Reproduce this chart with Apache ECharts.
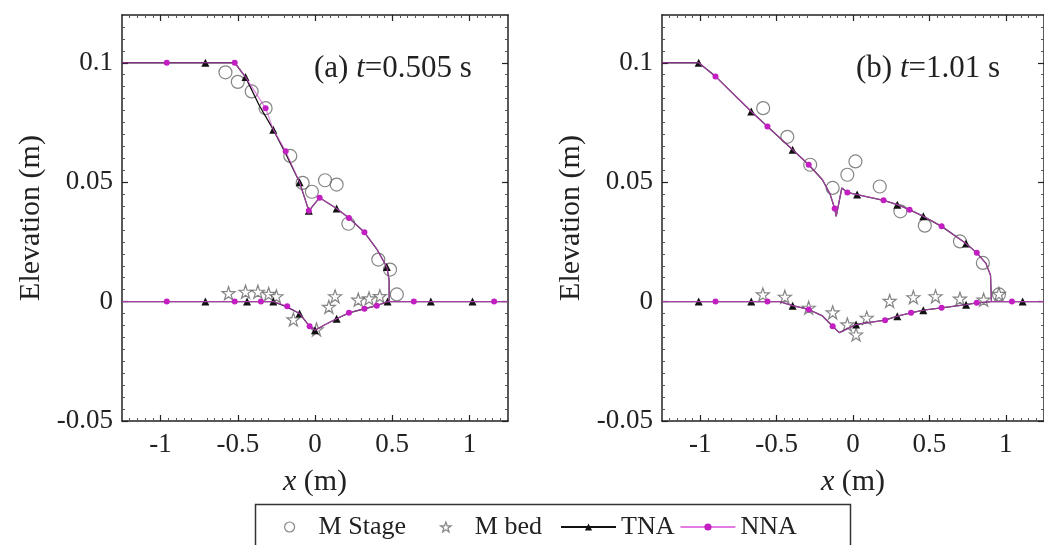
<!DOCTYPE html>
<html>
<head>
<meta charset="UTF-8">
<title>Elevation profiles</title>
<script src="https://cdn.jsdelivr.net/npm/echarts@6.0.0/dist/echarts.min.js"></script>
<style>
    html, body { margin: 0; padding: 0; background: #fff; }
    #main { width: 1044px; height: 545px; }
</style>
</head>
<body>
<div id="main"></div>
<script>
    // tick labels
    var xTicks = [-1, -0.5, 0, 0.5, 1];
    var yTicks = [-0.05, 0, 0.05, 0.1];

    // points are [x, z, marker]; marker = 1 where the model curve shows a symbol
    // (a) t = 0.505 s
    var tnaStageA = [[-1.25,0.1,0],[-0.71,0.1,1],[-0.52,0.1,0],[-0.45,0.094,1],[-0.36,0.082,0],[-0.27,0.072,1],[-0.19,0.062,0],
        [-0.10,0.050,1],[-0.055,0.041,0],[-0.04,0.038,1],[0.03,0.0435,0],[0.14,0.039,1],[0.22,0.035,0],[0.32,0.029,0],
        [0.40,0.022,0],[0.465,0.0145,1],[0.48,0.009,0],[0.48,0,0]];
    var nnaStageA = [[-1.25,0.1,0],[-0.96,0.1,1],[-0.52,0.1,1],[-0.45,0.094,0],[-0.32,0.081,1],[-0.27,0.072,0],[-0.19,0.063,1],
        [-0.10,0.050,0],[-0.055,0.041,0],[-0.04,0.038,1],[0.03,0.0435,1],[0.14,0.039,0],[0.22,0.035,1],[0.32,0.029,1],
        [0.40,0.022,0],[0.465,0.0145,0],[0.48,0.009,0],[0.48,0,0]];
    var tnaBedA = [[-1.25,0,0],[-0.71,0,1],[-0.44,0,1],[-0.34,0,0],[-0.27,0,1],[-0.19,-0.002,0],[-0.10,-0.005,1],[-0.04,-0.010,0],
        [0.0,-0.012,1],[0.07,-0.0095,0],[0.14,-0.0072,1],[0.22,-0.0047,0],[0.32,-0.003,0],[0.40,-0.0017,0],[0.47,0,1],
        [0.75,0,1],[1.02,0,1],[1.25,0,0]];
    var nnaBedA = [[-1.25,0,0],[-0.96,0,1],[-0.52,0,1],[-0.35,0,1],[-0.27,0,0],[-0.18,-0.002,1],[-0.10,-0.005,0],[-0.035,-0.0103,1],
        [0.0,-0.012,0],[0.07,-0.0095,0],[0.14,-0.0072,0],[0.22,-0.0047,1],[0.32,-0.003,1],[0.40,-0.0017,1],[0.47,0,0],
        [0.64,0,1],[1.16,0,1],[1.25,0,0]];
    var mStageA = [[-0.58,0.096],[-0.50,0.092],[-0.41,0.088],[-0.32,0.081],[-0.16,0.061],[-0.08,0.0497],[-0.02,0.046],
        [0.065,0.0508],[0.14,0.049],[0.216,0.0326],[0.41,0.0176],[0.486,0.0134],[0.53,0.003]];
    var mBedA = [[-0.56,0.0035],[-0.45,0.0041],[-0.37,0.0041],[-0.30,0.0032],[-0.25,0.0022],[-0.14,-0.0075],[0.01,-0.0117],
        [0.09,-0.0022],[0.13,0.0022],[0.28,0.0008],[0.35,0.0013],[0.42,0.0023]];

    // (b) t = 1.01 s
    var tnaStageB = [[-1.25,0.1,0],[-1.01,0.1,1],[-0.9,0.0943,0],[-0.666,0.0796,1],[-0.56,0.0733,0],[-0.395,0.0636,1],
        [-0.29,0.0573,0],[-0.2,0.051,0],[-0.15,0.045,0],[-0.12,0.039,0],[-0.11,0.0357,0],[-0.073,0.0476,0],[-0.037,0.0457,0],
        [0.027,0.0448,1],[0.2,0.0424,0],[0.29,0.0406,1],[0.37,0.0385,0],[0.46,0.0357,1],[0.58,0.0315,0],[0.74,0.0243,1],
        [0.81,0.0204,0],[0.87,0.016,0],[0.90,0.011,0],[0.906,0,0]];
    var nnaStageB = [[-1.25,0.1,0],[-1.01,0.1,0],[-0.9,0.0943,1],[-0.666,0.0796,0],[-0.56,0.0733,1],[-0.395,0.0636,0],
        [-0.29,0.0573,1],[-0.2,0.051,0],[-0.15,0.045,0],[-0.12,0.039,1],[-0.11,0.0357,0],[-0.073,0.0476,0],[-0.037,0.0457,1],
        [0.027,0.0448,0],[0.2,0.0424,1],[0.29,0.0406,0],[0.37,0.0385,1],[0.46,0.0357,0],[0.58,0.0315,1],[0.74,0.0243,0],
        [0.81,0.0204,1],[0.87,0.016,0],[0.90,0.011,0],[0.906,0,0]];
    var tnaBedB = [[-1.25,0,0],[-1.01,0,1],[-0.9,0,0],[-0.666,0,1],[-0.56,0,0],[-0.48,0,0],[-0.395,-0.0017,1],[-0.29,-0.0033,0],
        [-0.2,-0.006,0],[-0.133,-0.0103,0],[-0.09,-0.013,0],[0.02,-0.0096,1],[0.1,-0.0088,0],[0.21,-0.0078,0],
        [0.29,-0.0061,1],[0.38,-0.0047,0],[0.46,-0.0036,1],[0.58,-0.0026,0],[0.74,-0.0013,1],[0.81,-0.0005,0],
        [0.906,0,0],[1.04,0,0],[1.11,0,1],[1.25,0,0]];
    var nnaBedB = [[-1.25,0,0],[-1.01,0,0],[-0.9,0,1],[-0.666,0,0],[-0.56,0,1],[-0.48,0,0],[-0.395,-0.0017,0],[-0.29,-0.0033,1],
        [-0.2,-0.006,0],[-0.133,-0.0103,1],[-0.09,-0.013,0],[0.02,-0.0096,0],[0.1,-0.0088,0],[0.21,-0.0078,1],
        [0.29,-0.0061,0],[0.38,-0.0047,1],[0.46,-0.0036,0],[0.58,-0.0026,1],[0.74,-0.0013,0],[0.81,-0.0005,1],
        [0.906,0,0],[1.04,0,1],[1.11,0,0],[1.25,0,0]];
    var mStageB = [[-0.588,0.081],[-0.43,0.069],[-0.28,0.0573],[-0.133,0.0476],[-0.037,0.0531],[0.016,0.0587],[0.175,0.0482],
        [0.31,0.0378],[0.47,0.0318],[0.70,0.0252],[0.85,0.0162],[0.955,0.003]];
    var mBedB = [[-0.59,0.003],[-0.446,0.002],[-0.29,-0.0026],[-0.133,-0.0045],[-0.037,-0.0096],[0.02,-0.0138],[0.09,-0.0068],
        [0.24,0.0003],[0.395,0.0018],[0.54,0.0022],[0.70,0.0012],[0.855,0.0008],[0.955,0.0032]];

    var serif = '"Liberation Serif", "DejaVu Serif", serif';
    var ink = '#222';
    var starPath = 'path://M12,1 L14.6,8.6 L22.5,8.6 L16.1,13.4 L18.5,21 L12,16.4 L5.5,21 L7.9,13.4 L1.5,8.6 L9.4,8.6 Z';
    var hollow = { color: 'rgba(255,255,255,0)', borderColor: '#666', borderWidth: 1.2 };

    var chart = echarts.init(document.getElementById('main'));

    function frameLine() {
        return { onZero: false, lineStyle: { color: ink, width: 1.5 } };
    }

    function xAxisOf(grid, top) {
        return {
            gridIndex: grid, type: 'value', position: top ? 'top' : 'bottom',
            min: -1.25, max: 1.25, interval: 0.25,
            axisLine: frameLine(),
            axisTick: { inside: true, length: 6, customValues: xTicks, lineStyle: { color: ink, width: 1.2 } },
            minorTick: { show: true, splitNumber: 5, length: 3, lineStyle: { color: '#555' } },
            axisLabel: top ? { show: false } : {
                customValues: xTicks, margin: 10, color: ink, fontFamily: serif, fontSize: 27,
                formatter: function (v) { return String(v); }
            },
            splitLine: { show: false },
            name: top ? '' : '{i|x} (m)', nameLocation: 'middle', nameGap: 46,
            nameTextStyle: { color: ink, fontFamily: serif, fontSize: 30,
                rich: { i: { fontStyle: 'italic', fontFamily: serif, fontSize: 30, color: ink } } }
        };
    }

    function yAxisOf(grid, right) {
        return {
            gridIndex: grid, type: 'value', position: right ? 'right' : 'left',
            min: -0.05, max: 0.12, interval: 0.05,
            axisLine: frameLine(),
            axisTick: { inside: true, length: 6, customValues: yTicks, lineStyle: { color: ink, width: 1.2 } },
            minorTick: { show: true, splitNumber: 10, length: 3, lineStyle: { color: '#555' } },
            axisLabel: right ? { show: false } : {
                customValues: yTicks, margin: 9, color: ink, fontFamily: serif, fontSize: 27,
                formatter: function (v) { return String(v); }
            },
            splitLine: { show: false },
            name: right ? '' : 'Elevation (m)', nameLocation: 'middle', nameGap: 76,
            nameTextStyle: { color: ink, fontFamily: serif, fontSize: 30 }
        };
    }

    function modelData(arr) {
        return arr.map(function (p) {
            var item = { value: [p[0], p[1]] };
            if (!p[2]) item.symbol = 'none';
            return item;
        });
    }

    function tna(arr, g) {
        return {
            name: 'TNA', type: 'line', xAxisIndex: g * 2, yAxisIndex: g * 2, data: modelData(arr),
            symbol: 'triangle', symbolSize: 8, showAllSymbol: true, z: 3,
            lineStyle: { color: '#111', width: 1.3 }, itemStyle: { color: '#111' }
        };
    }

    function nna(arr, g) {
        return {
            name: 'NNA', type: 'line', xAxisIndex: g * 2, yAxisIndex: g * 2, data: modelData(arr),
            symbol: 'circle', symbolSize: 6, showAllSymbol: true, z: 4,
            lineStyle: { color: '#d84fd8', width: 1.1, opacity: 0.75 }, itemStyle: { color: '#c21ec2' }
        };
    }

    function measured(name, arr, g, sym) {
        return {
            name: name, type: 'scatter', xAxisIndex: g * 2, yAxisIndex: g * 2, data: arr,
            symbol: sym, symbolSize: 13, z: 2, itemStyle: hollow
        };
    }

    var option = {
        animation: false,
        backgroundColor: '#fff',
        grid: [
            { left: 122, top: 15, width: 386, height: 406 },
            { left: 662, top: 15, width: 391, height: 406 }
        ],
        xAxis: [xAxisOf(0, false), xAxisOf(0, true), xAxisOf(1, false), xAxisOf(1, true)],
        yAxis: [yAxisOf(0, false), yAxisOf(0, true), yAxisOf(1, false), yAxisOf(1, true)],
        legend: [
            {
                data: [
                    { name: 'M Stage', icon: 'circle', itemStyle: hollow },
                    { name: 'M bed', icon: starPath, itemStyle: hollow }
                ],
                left: 279, top: 509,
                itemWidth: 48, itemHeight: 10, itemGap: 34,
                textStyle: { color: ink, fontFamily: serif, fontSize: 26 }
            },
            {
                data: ['TNA', 'NNA'], left: 555, top: 509,
                itemWidth: 55, itemHeight: 9, itemGap: 5,
                textStyle: { color: ink, fontFamily: serif, fontSize: 26 }
            }
        ],
        graphic: [
            {
                type: 'rect', left: 253, top: 502, z: 0,
                shape: { width: 595, height: 42 },
                style: { fill: 'none', stroke: '#333', lineWidth: 1.5 }
            },
            {
                type: 'text', left: 314, top: 53,
                style: { text: '(a) {i|t}=0.505 s', fill: ink, fontFamily: serif, fontSize: 31,
                    rich: { i: { fontStyle: 'italic', fontFamily: serif, fontSize: 31, fill: ink } } }
            },
            {
                type: 'text', left: 856, top: 53,
                style: { text: '(b) {i|t}=1.01 s', fill: ink, fontFamily: serif, fontSize: 31,
                    rich: { i: { fontStyle: 'italic', fontFamily: serif, fontSize: 31, fill: ink } } }
            }
        ],
        series: [
            measured('M Stage', mStageA, 0, 'circle'),
            measured('M bed', mBedA, 0, starPath),
            tna(tnaStageA, 0), tna(tnaBedA, 0),
            nna(nnaStageA, 0), nna(nnaBedA, 0),
            measured('M Stage', mStageB, 1, 'circle'),
            measured('M bed', mBedB, 1, starPath),
            tna(tnaStageB, 1), tna(tnaBedB, 1),
            nna(nnaStageB, 1), nna(nnaBedB, 1)
        ]
    };

    chart.setOption(option);
</script>
</body>
</html>
